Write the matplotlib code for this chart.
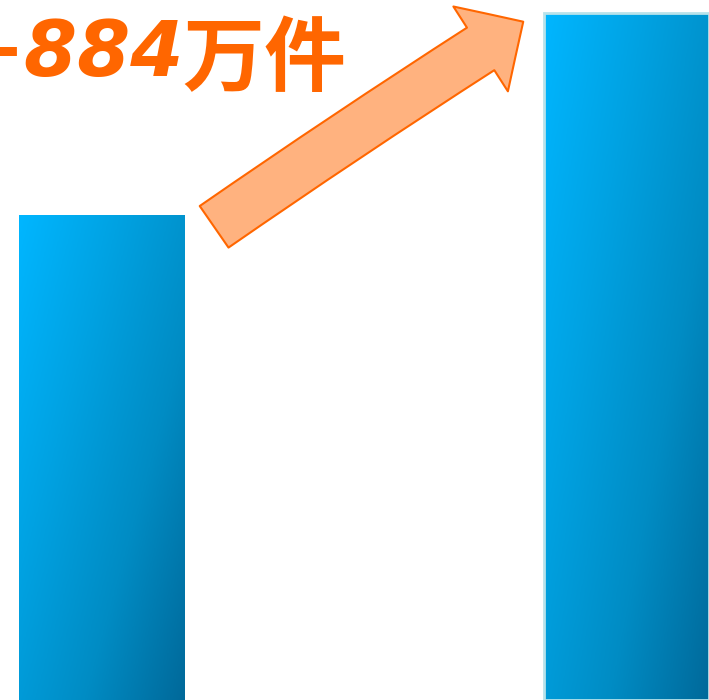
import numpy as np
import matplotlib
matplotlib.use("Agg")
import matplotlib.pyplot as plt
from matplotlib.colors import LinearSegmentedColormap

# data (万件), bottom of the picture is cropped
categories = ["前", "后"]
values = [2122, 3006]
increase_label = "+884"
unit_label = "万件"

bar_cmap = LinearSegmentedColormap.from_list(
    "bar", ["#00b6ff", "#00a2e2", "#008cc4", "#00699a"])

fig = plt.figure(figsize=(7.09, 7.0), dpi=100)
ax = fig.add_axes([0, 0, 1, 1])
ax.set_xlim(-0.1935, 1.158)
ax.set_ylim(0, values[1] * 700 / 687)
ax.axis("off")

x = np.arange(len(categories))
bars = ax.bar(x, values, width=0.3146, color="none", zorder=2)
bars[1].set_edgecolor("#b8e2ea")
bars[1].set_linewidth(2)

# gradient fill: light at top-left, dark at bottom-right
u = np.linspace(0, 1, 120)[None, :]
v = np.linspace(0, 1, 300)[:, None]
grad = 0.55 * u + 0.45 * v
for b in bars:
    x0, y0 = b.get_x(), b.get_y()
    w, h = b.get_width(), b.get_height()
    im = ax.imshow(grad, cmap=bar_cmap, vmin=0, vmax=1, aspect="auto",
                   extent=[x0, x0 + w, y0, y0 + h], origin="upper", zorder=1)
    im.set_clip_path(b)

# orange arrow
ax.annotate("", xy=(0.738, 0.969), xytext=(0.302, 0.676),
            xycoords="axes fraction", textcoords="axes fraction",
            arrowprops=dict(arrowstyle="simple,head_length=1.82,head_width=3.63,tail_width=1.82",
                            mutation_scale=20, fc="#ffb27f", ec="#ff6600", lw=1.5,
                            shrinkA=0, shrinkB=0,
                            connectionstyle="arc3,rad=-0.01"),
            zorder=3)

# label (left part is cut off by the picture edge, as in the original)
ax.text(184 / 709, 1 - 76 / 700, increase_label, transform=ax.transAxes,
        ha="right", va="baseline", color="#ff6600", fontsize=55,
        fontweight="bold", fontstyle="italic", family="DejaVu Sans")
ax.text(182 / 709, 1 - 85 / 700, unit_label, transform=ax.transAxes,
        ha="left", va="baseline", color="#ff6600", fontsize=59,
        fontweight="bold", family=["Noto Sans CJK SC", "DejaVu Sans"])

fig.savefig("out.png", dpi=100)
